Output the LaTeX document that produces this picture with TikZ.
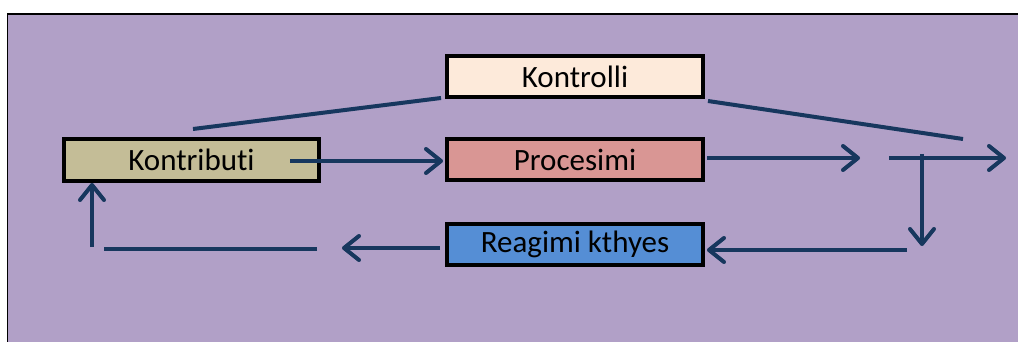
\documentclass[tikz,border=0pt]{standalone}
\usepackage{fontspec}
\setmainfont{Carlito}[RawFeature={-liga;-clig}]
\usetikzlibrary{arrows.meta}
\definecolor{bgpurple}{RGB}{177,160,199}
\definecolor{navy}{RGB}{23,55,94}
\definecolor{khaki}{RGB}{196,189,151}
\definecolor{peach}{RGB}{253,234,218}
\definecolor{rose}{RGB}{217,150,148}
\definecolor{skyblue}{RGB}{85,142,213}
\tikzset{
  box/.style={draw=black, line width=4pt, inner sep=0pt, minimum width=256pt, minimum height=41pt,
    font=\fontsize{31}{36}\selectfont},
  conn/.style={draw=navy, line width=4pt},
  arr/.style={conn, -{Straight Barb[length=15pt,width=24pt,round]}},
}
\begin{document}
\begin{tikzpicture}[x=1pt,y=-1pt]
\useasboundingbox (0,0) rectangle (1018,342);
\fill[white] (0,0) rectangle (1018,342);
\draw[black, line width=1.5pt, fill=bgpurple] (7.5,14) rectangle (1022,346);

\node[box, fill=khaki, minimum width=255pt, minimum height=42pt] (contrib) at (191.5,160) {Kontributi};
\node[box, fill=peach] (kontrolli) at (575,76.5) {Kontrolli};
\node[box, fill=rose] (proc) at (575,160) {Procesimi};
\node[box, fill=skyblue] (reag) at (575,244.5) {Reagimi kthyes};

\coordinate (cA) at (193,129);
\coordinate (cB) at (963,139);
\coordinate (cC) at (290,161);
\coordinate (cD) at (860,158);
\coordinate (cE) at (889,158);
\coordinate (cF) at (1006,158);
\coordinate (cG) at (922,154);
\coordinate (cH) at (922,246);
\coordinate (cI) at (907,250);
\coordinate (cJ) at (342,248);
\coordinate (cK) at (317,249);
\coordinate (cL) at (104,249);
\coordinate (cM) at (92,247);

\draw[conn] (cA) -- ([xshift=-4pt,yshift=1pt]kontrolli.south west);
\draw[conn] ([xshift=3pt,yshift=-2pt]kontrolli.south east) -- (cB);
\draw[arr] (cC) -- ([xshift=-2pt,yshift=-1pt]proc.west);
\draw[arr] ([xshift=2pt,yshift=2pt]proc.east) -- (cD);
\draw[arr] (cE) -- (cF);
\draw[arr] (cG) -- (cH);
\draw[arr] (cI) -- ([xshift=2pt,yshift=-5.5pt]reag.east);
\draw[arr] ([xshift=-5pt,yshift=-3.5pt]reag.west) -- (cJ);
\draw[conn] (cK) -- (cL);
\draw[arr] (cM) -- (cM |- contrib.south);
\end{tikzpicture}
\end{document}
